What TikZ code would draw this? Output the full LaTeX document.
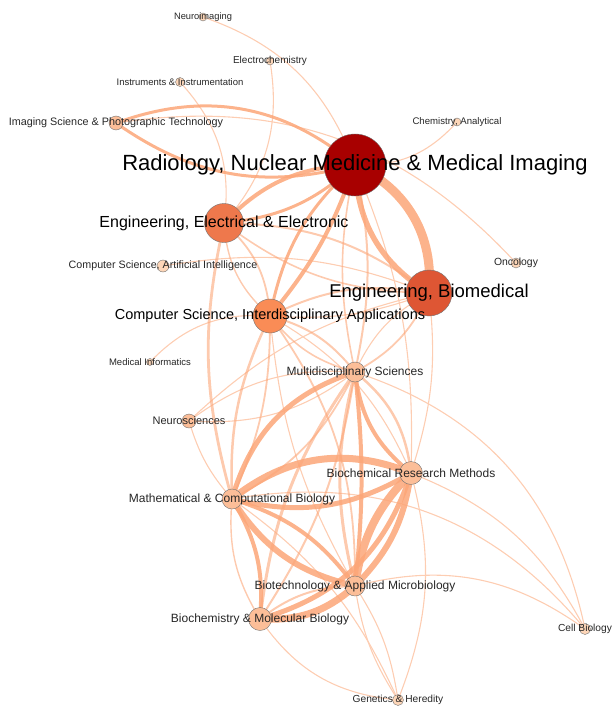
\documentclass[tikz,border=0pt]{standalone}
\usepackage{fontspec}
\setmainfont{Liberation Sans}

\definecolor{arcpeach}{RGB}{252,166,120}
\definecolor{arcpale}{RGB}{253,205,178}
\definecolor{radred}{RGB}{168,0,0}
\definecolor{biomedred}{RGB}{222,86,52}
\definecolor{elecorange}{RGB}{238,120,76}
\definecolor{csiorange}{RGB}{250,140,86}
\definecolor{midpeach}{RGB}{252,190,152}
\definecolor{lowpeach}{RGB}{253,214,184}

\begin{document}
\begin{tikzpicture}[x=1pt,y=1pt,yscale=-1,xscale=1,
  swing/.style={bend right=#1},
  tie/.style={draw=arcpeach, line width=#1, draw opacity=0.85},
  softtie/.style={draw=arcpeach, line width=#1, draw opacity=0.6},
  faint/.style={draw=arcpale, line width=1.1pt},
  dot/.style={circle, draw=black!55, line width=0.4pt, inner sep=0pt, minimum size=#1},
  lbl/.style={inner sep=0pt, text=black!85, font=\fontsize{#1}{#1}\selectfont}]
\useasboundingbox (0,0) rectangle (611,706);

%Node positions
\coordinate (rad) at (355,165);
\coordinate (ebm) at (429,293);
\coordinate (eee) at (224,223);
\coordinate (csi) at (270,316);
\coordinate (multi) at (355,372);
\coordinate (brm) at (411,473);
\coordinate (mcb) at (232,499);
\coordinate (biot) at (355,586);
\coordinate (bioc) at (260,619);
\coordinate (neuro) at (189,421);
\coordinate (imag) at (116,123);
\coordinate (cai) at (163,266);
\coordinate (onc) at (516,263);
\coordinate (cell) at (585,629);
\coordinate (gen) at (398,700);
\coordinate (instr) at (180,82);
\coordinate (echem) at (270,61);
\coordinate (nimg) at (203,17);
\coordinate (chem) at (457,122);
\coordinate (medinf) at (150,362);

%Curve Lines (weak links)
\draw[faint] (nimg) to[swing=25] (rad);
\draw[faint] (echem) to[swing=25] (eee);
\draw[faint] (instr) to[swing=25] (eee);
\draw[faint] (chem) to[swing=25] (rad);
\draw[faint] (imag) to[swing=28] (onc);
\draw[faint] (cai) to[swing=15] (ebm);
\draw[faint] (medinf) to[swing=25] (csi);
\draw[faint] (neuro) to[swing=20] (multi);
\draw[faint] (multi) to[swing=20] (neuro);
\draw[faint] (mcb) to[swing=12] (neuro);
\draw[faint] (neuro) to[swing=15] (ebm);
\draw[faint] (mcb) to[swing=30] (cell);
\draw[faint] (multi) to[swing=30] (cell);
\draw[faint] (brm) to[swing=20] (cell);
\draw[faint] (biot) to[swing=25] (cell);
\draw[faint] (gen) to[swing=25] (bioc);
\draw[faint] (biot) to[swing=12] (gen);
\draw[faint] (gen) to[swing=12] (biot);
\draw[faint] (brm) to[swing=18] (gen);
\draw[faint] (mcb) to[swing=15] (gen);
\draw[faint] (rad) to[swing=12] (brm);
\draw[faint] (ebm) to[swing=12] (brm);
\draw[faint] (csi) to[swing=18] (brm);
\draw[faint] (ebm) to[swing=12] (csi);
\draw[faint] (biot) to[swing=12] (csi);
\draw[faint] (multi) to[swing=18] (ebm);

%Curve Lines (medium links)
\draw[softtie=2] (rad) to[swing=12] (multi);
\draw[softtie=1.6] (multi) to[swing=12] (rad);
\draw[softtie=2] (eee) to[swing=18] (ebm);
\draw[softtie=1.6] (ebm) to[swing=18] (eee);
\draw[softtie=2] (csi) to[swing=18] (ebm);
\draw[softtie=1.8] (eee) to[swing=22] (csi);
\draw[softtie=1.4] (csi) to[swing=22] (eee);
\draw[softtie=2.8] (mcb) to[swing=14] (eee);
\draw[softtie=2.5] (mcb) to[swing=14] (csi);
\draw[softtie=1.8] (csi) to[swing=12] (mcb);
\draw[softtie=2] (csi) to[swing=18] (multi);
\draw[softtie=1.6] (multi) to[swing=18] (csi);
\draw[softtie=1.8] (csi) to[swing=18] (biot);
\draw[softtie=1.8] (ebm) to[swing=18] (multi);
\draw[softtie=1.8] (multi) to[swing=18] (mcb);
\draw[softtie=2] (bioc) to[swing=18] (biot);
\draw[softtie=1.4] (bioc) to[swing=18] (mcb);
\draw[softtie=2.5] (multi) to[swing=22] (brm);
\draw[softtie=3] (biot) to[swing=14] (multi);
\draw[softtie=3] (bioc) to[swing=14] (multi);
\draw[softtie=2] (multi) to[swing=12] (bioc);

%Curve Lines (strong links)
\draw[tie=3] (imag) to[swing=30] (rad);
\draw[tie=3] (rad) to[swing=25] (imag);
\draw[tie=4] (eee) to[swing=22] (rad);
\draw[tie=3] (rad) to[swing=18] (eee);
\draw[tie=4] (rad) to[swing=10] (csi);
\draw[tie=3] (csi) to[swing=18] (rad);
\draw[tie=5.5] (ebm) to[swing=28] (rad);
\draw[tie=9] (rad) to[swing=35] (ebm);
\draw[tie=5] (mcb) to[swing=28] (multi);
\draw[tie=7] (mcb) to[swing=30] (brm);
\draw[tie=5] (brm) to[swing=22] (mcb);
\draw[tie=6] (biot) to[swing=22] (mcb);
\draw[tie=4] (mcb) to[swing=18] (biot);
\draw[tie=8] (biot) to[swing=18] (brm);
\draw[tie=6] (brm) to[swing=18] (biot);
\draw[tie=7] (biot) to[swing=22] (bioc);
\draw[tie=4] (mcb) to[swing=18] (bioc);
\draw[tie=4] (brm) to[swing=22] (multi);
\draw[tie=4] (multi) to[swing=6] (biot);
\draw[tie=5] (brm) to[swing=28] (bioc);

%Shape: Circle
\node[dot=62, fill=radred] (rad-n) at (rad) {};
\node[dot=46, fill=biomedred] (ebm-n) at (ebm) {};
\node[dot=39, fill=elecorange] (eee-n) at (eee) {};
\node[dot=34, fill=csiorange] (csi-n) at (csi) {};
\node[dot=20, fill=midpeach] (multi-n) at (multi) {};
\node[dot=23, fill=midpeach] (brm-n) at (brm) {};
\node[dot=20, fill=midpeach] (mcb-n) at (mcb) {};
\node[dot=20, fill=midpeach] (biot-n) at (biot) {};
\node[dot=23, fill=midpeach] (bioc-n) at (bioc) {};
\node[dot=14, fill=midpeach] (neuro-n) at (neuro) {};
\node[dot=14, fill=midpeach] (imag-n) at (imag) {};
\node[dot=12, fill=lowpeach] (cai-n) at (cai) {};
\node[dot=10, fill=lowpeach] (onc-n) at (onc) {};
\node[dot=11, fill=lowpeach] (cell-n) at (cell) {};
\node[dot=11, fill=lowpeach] (gen-n) at (gen) {};
\node[dot=9, fill=lowpeach] (instr-n) at (instr) {};
\node[dot=8, fill=lowpeach] (echem-n) at (echem) {};
\node[dot=8, fill=lowpeach] (nimg-n) at (nimg) {};
\node[dot=8, fill=lowpeach] (chem-n) at (chem) {};
\node[dot=7, fill=lowpeach] (medinf-n) at (medinf) {};

% Text Node
\node[lbl=22, text=black] (rad-t) at (rad) {Radiology, Nuclear Medicine \& Medical Imaging};
\node[lbl=18.5, text=black] (ebm-t) at (ebm) {Engineering, Biomedical};
\node[lbl=16, text=black] (eee-t) at (eee) {Engineering, Electrical \& Electronic};
\node[lbl=14.5, text=black] (csi-t) at (csi) {Computer Science, Interdisciplinary Applications};
\node[lbl=12] (multi-t) at (multi) {Multidisciplinary Sciences};
\node[lbl=12] (brm-t) at (brm) {Biochemical Research Methods};
\node[lbl=12] (mcb-t) at (mcb) {Mathematical \& Computational Biology};
\node[lbl=12] (biot-t) at (biot) {Biotechnology \& Applied Microbiology};
\node[lbl=12] (bioc-t) at (bioc) {Biochemistry \& Molecular Biology};
\node[lbl=11] (neuro-t) at (neuro) {Neurosciences};
\node[lbl=10.8] (imag-t) at (imag) {Imaging Science \& Photographic Technology};
\node[lbl=10.7] (cai-t) at (cai) {Computer Science, Artificial Intelligence};
\node[lbl=10.4] (onc-t) at (onc) {Oncology};
\node[lbl=10.2] (cell-t) at (cell) {Cell Biology};
\node[lbl=10.2] (gen-t) at (gen) {Genetics \& Heredity};
\node[lbl=9.5] (instr-t) at (instr) {Instruments \& Instrumentation};
\node[lbl=10] (echem-t) at (echem) {Electrochemistry};
\node[lbl=9.3] (nimg-t) at (nimg) {Neuroimaging};
\node[lbl=9.6] (chem-t) at (chem) {Chemistry, Analytical};
\node[lbl=9.5] (medinf-t) at (medinf) {Medical Informatics};

\end{tikzpicture}
\end{document}
